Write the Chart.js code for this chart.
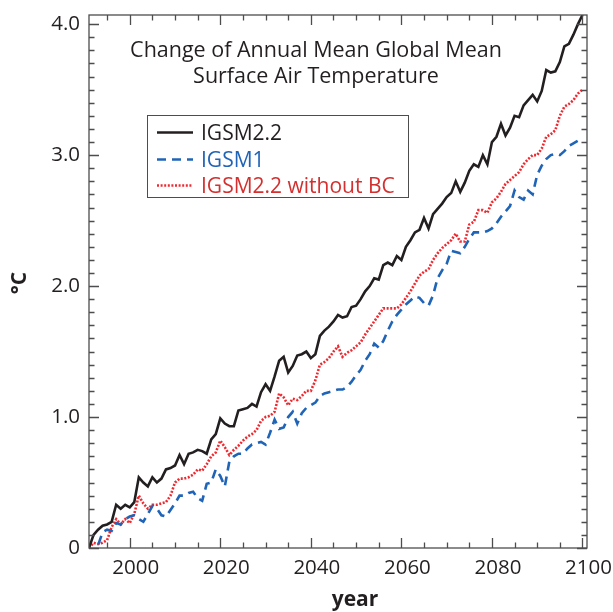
<!DOCTYPE html>
<html>
<head>
<meta charset="utf-8">
<script src="https://cdn.jsdelivr.net/npm/chart.js@4/dist/chart.umd.min.js"></script>
<style>
  body { margin: 0; background: #fff; }
  #wrap { width: 613px; height: 612px; }
</style>
</head>
<body>
<div id="wrap"><canvas id="chart" width="613" height="612"></canvas></div>
<script>
// jahre 1991..2100 (kategorien)
const years = [];
for (let y = 1991; y <= 2100; y++) years.push(y);

// IGSM2.2 (schwarz, durchgezogen)
const igsm22 = [
  0.00, 0.10, 0.14, 0.17, 0.18, 0.20, 0.33, 0.30, 0.33, 0.31,
  0.35, 0.54, 0.50, 0.47, 0.54, 0.50, 0.53, 0.60, 0.61, 0.63,
  0.71, 0.64, 0.72, 0.73, 0.75, 0.74, 0.72, 0.83, 0.87, 0.99,
  0.95, 0.93, 0.93, 1.05, 1.06, 1.07, 1.10, 1.08, 1.19, 1.25,
  1.20, 1.31, 1.43, 1.46, 1.34, 1.39, 1.47, 1.48, 1.50, 1.45,
  1.48, 1.62, 1.66, 1.69, 1.73, 1.78, 1.76, 1.77, 1.84, 1.85,
  1.90, 1.96, 2.00, 2.06, 2.05, 2.16, 2.18, 2.16, 2.23, 2.20,
  2.30, 2.35, 2.41, 2.43, 2.52, 2.44, 2.55, 2.59, 2.63, 2.68,
  2.71, 2.80, 2.72, 2.79, 2.88, 2.93, 2.91, 3.00, 2.93, 3.10,
  3.14, 3.24, 3.15, 3.21, 3.30, 3.29, 3.38, 3.42, 3.46, 3.41,
  3.49, 3.65, 3.63, 3.64, 3.71, 3.83, 3.85, 3.92, 4.00, 4.07
];

// IGSM1 (blau, gestrichelt)
const igsm1 = [
  0.00, -0.03, 0.02, 0.12, 0.14, 0.13, 0.19, 0.18, 0.22, 0.24,
  0.25, 0.22, 0.20, 0.26, 0.32, 0.30, 0.25, 0.24, 0.29, 0.34,
  0.40, 0.40, 0.42, 0.43, 0.38, 0.36, 0.49, 0.50, 0.60, 0.55,
  0.47, 0.66, 0.70, 0.72, 0.72, 0.76, 0.79, 0.80, 0.81, 0.79,
  0.88, 0.98, 0.91, 0.92, 1.00, 1.04, 0.95, 1.03, 1.07, 1.09,
  1.11, 1.16, 1.18, 1.19, 1.20, 1.21, 1.21, 1.23, 1.27, 1.32,
  1.36, 1.43, 1.48, 1.56, 1.53, 1.58, 1.66, 1.73, 1.78, 1.82,
  1.86, 1.89, 1.92, 1.91, 1.87, 1.85, 1.93, 2.06, 2.12, 2.17,
  2.27, 2.26, 2.25, 2.30, 2.36, 2.41, 2.41, 2.41, 2.42, 2.44,
  2.48, 2.53, 2.57, 2.61, 2.73, 2.68, 2.66, 2.73, 2.70, 2.85,
  2.92, 2.97, 3.00, 3.01, 3.00, 3.03, 3.07, 3.09, 3.11, 3.10
];

// IGSM2.2 ohne BC (rot, gepunktet)
const igsm22noBC = [
  0.00, 0.04, 0.03, 0.04, 0.06, 0.16, 0.22, 0.18, 0.22, 0.19,
  0.26, 0.40, 0.34, 0.30, 0.33, 0.33, 0.34, 0.35, 0.40, 0.50,
  0.53, 0.53, 0.54, 0.56, 0.60, 0.59, 0.64, 0.70, 0.73, 0.82,
  0.77, 0.71, 0.75, 0.78, 0.82, 0.85, 0.87, 0.90, 0.97, 1.00,
  1.01, 1.04, 1.18, 1.15, 1.09, 1.14, 1.13, 1.16, 1.20, 1.20,
  1.28, 1.40, 1.42, 1.45, 1.50, 1.54, 1.46, 1.49, 1.51, 1.54,
  1.57, 1.63, 1.68, 1.73, 1.78, 1.83, 1.83, 1.83, 1.83, 1.86,
  1.91, 1.96, 2.02, 2.08, 2.11, 2.13, 2.20, 2.25, 2.29, 2.32,
  2.35, 2.40, 2.34, 2.34, 2.47, 2.49, 2.58, 2.58, 2.56, 2.64,
  2.67, 2.72, 2.78, 2.81, 2.84, 2.87, 2.93, 2.97, 3.00, 3.00,
  3.05, 3.14, 3.16, 3.19, 3.30, 3.37, 3.39, 3.42, 3.47, 3.50
];

const xTicks = [2000, 2020, 2040, 2060, 2080, 2100];
const yTicks = [0, 1, 2, 3, 4];
const titleLines = ['Change of Annual Mean Global Mean', 'Surface Air Temperature'];
const xTitle = 'year';
const yTitle = '°C';

const textColor = '#231f20';
const fontName = '"Open Sans", sans-serif';

function toPoints(values) {
    return values.map((v, i) => ({ x: years[i], y: v }));
}

// rahmen, innenliegende ticks, titel, legende und achsentitel
const decorPlugin = {
    id: 'decor',
    afterDraw(chart) {
        const ctx = chart.ctx;
        const a = chart.chartArea;
        const xs = chart.scales.x;
        const ys = chart.scales.y;
        ctx.save();

        ctx.strokeStyle = '#4d4d4f';
        ctx.lineWidth = 1.3;
        ctx.strokeRect(a.left, a.top, a.right - a.left, a.bottom - a.top);

        ctx.beginPath();
        for (let yr = 1995; yr <= 2100; yr += 5) {
            const px = Math.round(xs.getPixelForValue(yr)) + 0.5;
            const len = yr % 20 === 0 ? 10 : 5.5;
            ctx.moveTo(px, a.bottom); ctx.lineTo(px, a.bottom - len);
            ctx.moveTo(px, a.top); ctx.lineTo(px, a.top + len);
        }
        for (let i = 0; i <= 40; i++) {
            const py = Math.round(ys.getPixelForValue(i / 10)) + 0.5;
            const len = i % 10 === 0 ? 10 : 5.5;
            ctx.moveTo(a.left, py); ctx.lineTo(a.left + len, py);
            ctx.moveTo(a.right, py); ctx.lineTo(a.right - len, py);
        }
        ctx.stroke();

        // titel im diagramm
        ctx.fillStyle = textColor;
        ctx.font = '21.5px ' + fontName;
        ctx.textAlign = 'center';
        ctx.textBaseline = 'alphabetic';
        ctx.fillText(titleLines[0], 316, 57);
        ctx.fillText(titleLines[1], 316, 83);

        // legende
        ctx.strokeStyle = '#4d4d4f';
        ctx.lineWidth = 1;
        ctx.strokeRect(147.5, 115.5, 261, 82);
        ctx.textAlign = 'left';
        ctx.font = '21px ' + fontName;
        const rowY = [132.5, 159.5, 185.5];
        chart.data.datasets.forEach((ds, i) => {
            ctx.beginPath();
            ctx.setLineDash(ds.borderDash || []);
            ctx.strokeStyle = ds.borderColor;
            ctx.lineWidth = ds.borderWidth;
            ctx.moveTo(157, rowY[i]);
            ctx.lineTo(193, rowY[i]);
            ctx.stroke();
            ctx.setLineDash([]);
            ctx.fillStyle = ds.labelColor;
            ctx.fillText(ds.label, 201, rowY[i] + 7);
        });

        // achsentitel
        ctx.fillStyle = textColor;
        ctx.font = 'bold 21px ' + fontName;
        ctx.textAlign = 'center';
        ctx.fillText(xTitle, 355, 606);
        ctx.translate(26, 283);
        ctx.rotate(-Math.PI / 2);
        ctx.fillText(yTitle, 0, 0);

        ctx.restore();
    }
};

const chart = new Chart(document.getElementById('chart'), {
    type: 'line',
    data: {
        datasets: [{
            label: 'IGSM2.2',
            data: toPoints(igsm22),
            borderColor: '#231f20',
            labelColor: '#231f20',
            borderWidth: 2.6,
            pointRadius: 0,
            tension: 0
        }, {
            label: 'IGSM1',
            data: toPoints(igsm1),
            borderColor: '#1f64b7',
            labelColor: '#1f64b7',
            borderWidth: 2.6,
            borderDash: [9, 6],
            pointRadius: 0,
            tension: 0
        }, {
            label: 'IGSM2.2 without BC',
            data: toPoints(igsm22noBC),
            borderColor: '#ee2a30',
            labelColor: '#d3302f',
            borderWidth: 2.6,
            borderDash: [2, 1.6],
            pointRadius: 0,
            tension: 0
        }]
    },
    options: {
        responsive: false,
        animation: false,
        devicePixelRatio: 1,
        layout: { padding: { left: 0, top: 15, right: 26, bottom: 0 } },
        plugins: {
            legend: { display: false },
            tooltip: { enabled: false }
        },
        scales: {
            x: {
                type: 'linear',
                min: 1991,
                max: 2101,
                grid: { display: false, drawTicks: false },
                border: { display: false },
                afterBuildTicks: (scale) => { scale.ticks = xTicks.map(v => ({ value: v })); },
                afterFit: (scale) => {
                    scale.height = 64;
                    scale.paddingLeft = 0;
                    scale.paddingRight = 0;
                },
                ticks: {
                    color: textColor,
                    font: { family: fontName, size: 20.5 },
                    padding: 8,
                    labelOffset: 6,
                    maxRotation: 0,
                    callback: (v) => String(v)
                }
            },
            y: {
                min: 0,
                max: 4.07,
                grid: { display: false, drawTicks: false },
                border: { display: false },
                afterBuildTicks: (scale) => { scale.ticks = yTicks.map(v => ({ value: v })); },
                afterFit: (scale) => {
                    scale.width = 89;
                    scale.paddingTop = 0;
                    scale.paddingBottom = 0;
                },
                ticks: {
                    color: textColor,
                    font: { family: fontName, size: 20.5 },
                    padding: 9,
                    callback: (v) => v === 0 ? '0' : v.toFixed(1)
                }
            }
        }
    },
    plugins: [decorPlugin]
});
</script>
</body>
</html>
